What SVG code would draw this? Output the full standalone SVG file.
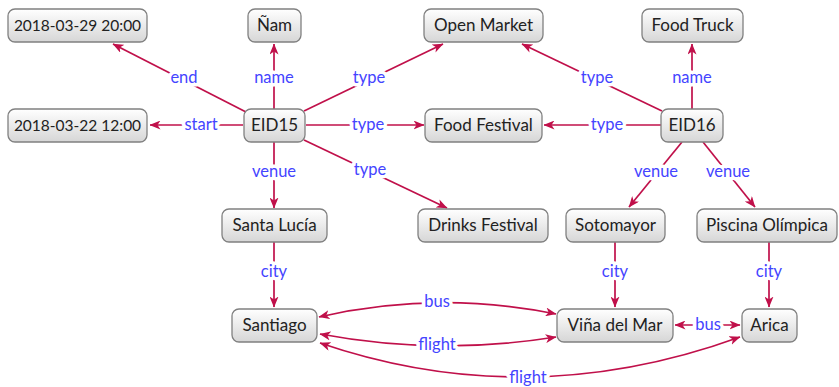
<svg xmlns="http://www.w3.org/2000/svg" width="839" height="387" viewBox="0 0 839 387">
<defs>
<linearGradient id="g" x1="0" y1="0" x2="0" y2="1">
<stop offset="0" stop-color="#ffffff"/>
<stop offset="1" stop-color="#d6d6d6"/>
</linearGradient>
<marker id="ah" viewBox="0 0 11 9" refX="10.5" refY="4.5" markerWidth="11" markerHeight="9" markerUnits="userSpaceOnUse" orient="auto-start-reverse">
<path d="M0,0 L11,4.5 L0,9 L3,4.5 z" fill="#c0104a"/>
</marker>
</defs>
<style>
.n rect{fill:url(#g);stroke:#808080;stroke-width:1.3}
.n text{font-family:Lato,"Open Sans",sans-serif;font-size:17px;fill:#222;text-anchor:middle}
.n text.d{font-size:15.5px}
.e path,.e line{fill:none;stroke:#c0104a;stroke-width:1.7}
.a{marker-end:url(#ah)}
.b{marker-start:url(#ah);marker-end:url(#ah)}
.l text{font-family:Lato,"Open Sans",sans-serif;font-size:16.5px;fill:#4444ff;text-anchor:middle;stroke:#fff;stroke-width:7;paint-order:stroke;stroke-linejoin:round}
</style>
<rect width="839" height="387" fill="#fff"/>
<g id="edges" class="e">
<line class="a" x1="246" y1="112" x2="113" y2="44"/>
<line class="a" x1="274" y1="109" x2="274" y2="44"/>
<line class="a" x1="304" y1="111" x2="443" y2="44"/>
<line class="a" x1="243" y1="125" x2="150" y2="125"/>
<line class="a" x1="306" y1="125" x2="424" y2="125"/>
<line class="a" x1="274" y1="142" x2="274" y2="208"/>
<line class="a" x1="304" y1="140" x2="447" y2="208"/>
<line class="a" x1="662" y1="111" x2="522" y2="44"/>
<line class="a" x1="692" y1="109" x2="692" y2="44"/>
<line class="a" x1="661" y1="125" x2="544" y2="125"/>
<line class="a" x1="682" y1="142" x2="629" y2="207"/>
<line class="a" x1="703" y1="142" x2="755" y2="207"/>
<line class="a" x1="274" y1="242" x2="274" y2="307"/>
<line class="a" x1="615" y1="242" x2="615" y2="307"/>
<line class="a" x1="769" y1="242" x2="769" y2="307"/>
<path class="b" d="M319,317 Q437,290 556,314"/>
<path class="b" d="M320,334 Q437,356 556,337"/>
<path class="b" d="M320,343 Q528,414 740,337"/>
<line class="b" x1="675" y1="325" x2="740" y2="325"/>
</g>
<g id="labels" class="l">
<text x="184" y="83">end</text>
<text x="274" y="83">name</text>
<text x="369" y="83">type</text>
<text x="201" y="130">start</text>
<text x="368" y="130">type</text>
<text x="274" y="177">venue</text>
<text x="370" y="175">type</text>
<text x="597" y="83">type</text>
<text x="692" y="83">name</text>
<text x="607" y="130">type</text>
<text x="656" y="177">venue</text>
<text x="728" y="177">venue</text>
<text x="274" y="277">city</text>
<text x="615" y="277">city</text>
<text x="769" y="277">city</text>
<text x="437" y="307">bus</text>
<text x="437" y="350">flight</text>
<text x="528" y="383">flight</text>
<text x="708" y="330">bus</text>
</g>
<g id="n1" class="n"><rect x="8" y="9" width="139" height="33" rx="7"/><text class="d" x="77.5" y="30.5">2018-03-29 20:00</text></g>
<g id="n2" class="n"><rect x="248" y="9" width="53" height="33" rx="7"/><text x="274.5" y="31">Ñam</text></g>
<g id="n3" class="n"><rect x="424" y="9" width="119" height="33" rx="7"/><text x="483.5" y="31">Open Market</text></g>
<g id="n4" class="n"><rect x="642" y="9" width="101" height="33" rx="7"/><text x="692.5" y="31">Food Truck</text></g>
<g id="n5" class="n"><rect x="8" y="109" width="139" height="33" rx="7"/><text class="d" x="77.5" y="130.5">2018-03-22 12:00</text></g>
<g id="n6" class="n"><rect x="244" y="109" width="61" height="33" rx="7"/><text x="274.5" y="131">EID15</text></g>
<g id="n7" class="n"><rect x="425" y="109" width="117" height="33" rx="7"/><text x="483.5" y="131">Food Festival</text></g>
<g id="n8" class="n"><rect x="661" y="109" width="62" height="33" rx="7"/><text x="692" y="131">EID16</text></g>
<g id="n9" class="n"><rect x="222" y="209" width="105" height="33" rx="7"/><text x="274.5" y="231">Santa Lucía</text></g>
<g id="n10" class="n"><rect x="418" y="209" width="130" height="33" rx="7"/><text x="483" y="231">Drinks Festival</text></g>
<g id="n11" class="n"><rect x="566" y="209" width="99" height="33" rx="7"/><text x="615.5" y="231">Sotomayor</text></g>
<g id="n12" class="n"><rect x="697" y="209" width="140" height="33" rx="7"/><text x="767" y="231">Piscina Olímpica</text></g>
<g id="n13" class="n"><rect x="232" y="309" width="85" height="33" rx="7"/><text x="274.5" y="331">Santiago</text></g>
<g id="n14" class="n"><rect x="557" y="309" width="116" height="33" rx="7"/><text x="615" y="331">Viña del Mar</text></g>
<g id="n15" class="n"><rect x="742" y="309" width="55" height="33" rx="7"/><text x="769.5" y="331">Arica</text></g>
</svg>
